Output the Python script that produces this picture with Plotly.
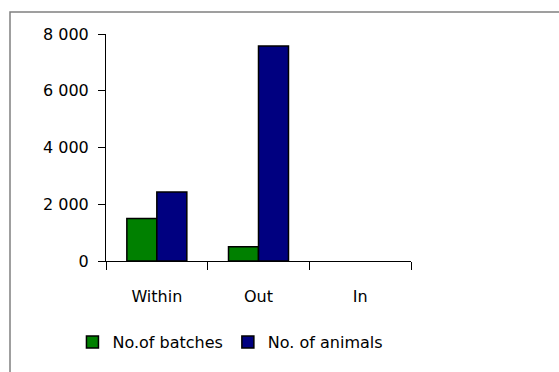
import plotly.graph_objects as go

categories = ["Within", "Out", "In"]
batches = [1500, 500, 0]
animals = [2430, 7580, 0]
y_ticks = [0, 2000, 4000, 6000, 8000]

FONT = "DejaVu Sans"


def outline_widths(values):
    # empty bars get no outline so nothing shows on the baseline
    return [1.5 if v > 0 else 0 for v in values]


fig = go.Figure()
fig.add_trace(go.Bar(
    x=categories, y=batches, name="No.of batches",
    marker=dict(color="#008000",
                line=dict(color="#000000", width=outline_widths(batches))),
))
fig.add_trace(go.Bar(
    x=categories, y=animals, name="No. of animals",
    marker=dict(color="#000080",
                line=dict(color="#000000", width=outline_widths(animals))),
))

fig.update_layout(
    width=559, height=372,
    margin=dict(l=106, r=148, t=34, b=111),
    paper_bgcolor="white", plot_bgcolor="white",
    font=dict(family=FONT, size=16, color="#000000"),
    separators=". ",
    barmode="group", bargap=0.41, bargroupgap=0,
    showlegend=True,
    legend=dict(
        orientation="h", x=-0.11, xanchor="left", y=-0.357, yanchor="middle",
        font=dict(family=FONT, size=16), itemwidth=30,
        bgcolor="rgba(0,0,0,0)", traceorder="normal",
    ),
    xaxis=dict(
        showline=True, linecolor="#000000", linewidth=1,
        ticks="outside", ticklen=8, tickcolor="#000000", tickson="boundaries",
        ticklabelstandoff=21, showgrid=False, zeroline=False,
    ),
    yaxis=dict(
        range=[0, 8000], tickvals=y_ticks, tickformat=",d",
        showline=True, linecolor="#000000", linewidth=1,
        ticks="outside", ticklen=7, tickcolor="#000000",
        ticklabelstandoff=6, showgrid=False, zeroline=False,
    ),
    shapes=[
        dict(type="rect", xref="paper", yref="paper",
             x0=(10 - 106) / 305, x1=(565 - 106) / 305,
             y0=(261 - 380) / 227, y1=(261 - 12) / 227,
             line=dict(color="#808080", width=1.5), fillcolor="rgba(0,0,0,0)",
             layer="below"),
    ],
)

fig.write_html("out.html")
